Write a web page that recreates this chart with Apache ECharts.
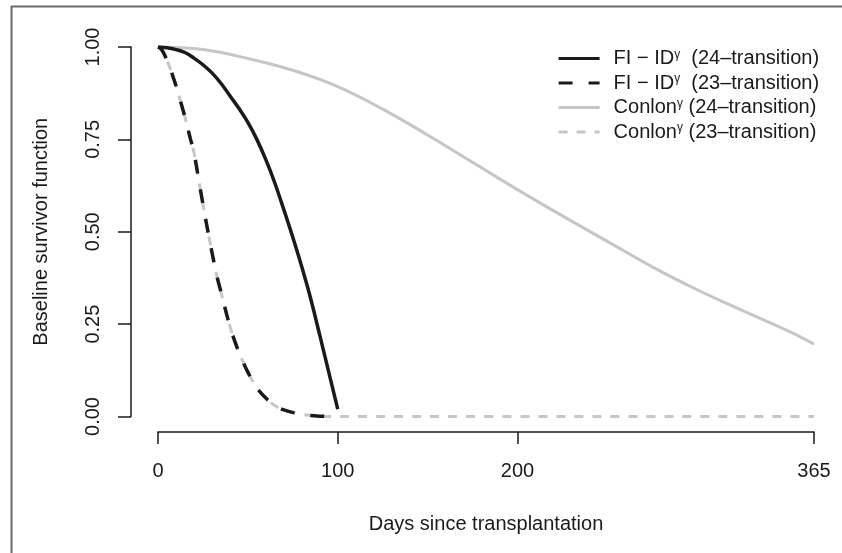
<!DOCTYPE html>
<html><head><meta charset="utf-8">
<script src="https://cdn.jsdelivr.net/npm/echarts@6/dist/echarts.min.js"></script>
<style>html,body{margin:0;padding:0;background:#fff}#c{width:842px;height:553px}</style>
</head><body><div id="c"></div>
<script>
// Days since transplantation / baseline survivor values
const fi24Days = [0,5,10,15,20,25,30,35,40,45,50,55,60,65,70,75,80,85,90,95,100];
const fi24Surv = [1,0.998,0.993,0.985,0.97,0.952,0.93,0.902,0.868,0.834,0.796,0.75,0.695,0.632,0.56,0.485,0.405,0.318,0.22,0.12,0.02];

const fi23Days = [0,2,4,6,8,10,12,15,18,20,23,25,27,30,33,35,38,40,43,46,50,55,60,65,70,80,90,100];
const fi23Surv = [1,0.993,0.975,0.952,0.925,0.895,0.862,0.81,0.752,0.715,0.63,0.575,0.521,0.445,0.375,0.338,0.28,0.245,0.2,0.163,0.12,0.078,0.05,0.03,0.018,0.006,0.001,0];

const con24Days = [0,25,50,75,100,125,150,175,200,225,250,275,300,325,350,365];
const con24Surv = [1,0.993,0.969,0.937,0.893,0.832,0.762,0.688,0.614,0.543,0.474,0.405,0.343,0.287,0.233,0.196];

const con23Days = [0,2,4,6,8,10,12,15,18,20,23,25,27,30,33,35,38,40,43,46,50,55,60,65,70,80,90,100,365];
const con23Surv = [1,0.993,0.975,0.952,0.925,0.895,0.862,0.81,0.752,0.715,0.63,0.575,0.521,0.445,0.375,0.338,0.28,0.245,0.2,0.163,0.12,0.078,0.05,0.03,0.018,0.006,0.001,0,0];

const xTicks = [0,100,200,365];
const seriesNames = ['FI24','FI23','CON24','CON23'];
const legendLabels = {
  FI24: '{a|FI \u2212 ID}{s|\u03b3}{a|  (24\u2013transition)}',
  FI23: '{a|FI \u2212 ID}{s|\u03b3}{a|  (23\u2013transition)}',
  CON24: '{a|Conlon}{s|\u03b3}{a| (24\u2013transition)}',
  CON23: '{a|Conlon}{s|\u03b3}{a| (23\u2013transition)}'
};

const pairs = (xs, ys) => xs.map((x, i) => [x, ys[i]]);
const FONT = '"Liberation Sans", Arial, Helvetica, sans-serif';
const INK = '#1a1a1a';
const GREY = '#c6c6c6';

const chart = echarts.init(document.getElementById('c'), null, {renderer: 'canvas'});
chart.setOption({
  animation: false,
  backgroundColor: '#fff',
  textStyle: {fontFamily: FONT},
  grid: {left: 158, right: 28, top: 47, bottom: 136.5, containLabel: false},
  xAxis: {
    type: 'value', min: 0, max: 365, offset: 15.5,
    name: 'Days since transplantation', nameLocation: 'middle', nameGap: 82,
    nameTextStyle: {fontSize: 20, color: INK, fontFamily: FONT},
    axisLine: {show: true, onZero: false, lineStyle: {color: INK, width: 1.5}},
    axisTick: {show: true, length: 12, lineStyle: {color: INK, width: 1.5}, customValues: xTicks},
    axisLabel: {fontSize: 20, color: INK, margin: 29, fontFamily: FONT, customValues: xTicks, showMinLabel: true, showMaxLabel: true},
    splitLine: {show: false}
  },
  yAxis: {
    type: 'value', min: 0, max: 1, interval: 0.25, offset: 27,
    name: 'Baseline survivor function', nameLocation: 'middle', nameGap: 80,
    nameTextStyle: {fontSize: 20, color: INK, fontFamily: FONT},
    axisLine: {show: true, onZero: false, lineStyle: {color: INK, width: 1.5}},
    axisTick: {show: true, length: 13, lineStyle: {color: INK, width: 1.5}},
    axisLabel: {fontSize: 20, color: INK, rotate: 90, margin: 28, fontFamily: FONT,
      formatter: v => v.toFixed(2)},
    splitLine: {show: false}
  },
  legend: {
    orient: 'vertical', left: 552, top: 43.5,
    itemWidth: 41, itemHeight: 20, itemGap: 4.5,
    data: seriesNames,
    formatter: n => legendLabels[n],
    itemStyle: {opacity: 0},
    lineStyle: {width: 3.2},
    textStyle: {
      color: INK, fontFamily: FONT, fontSize: 20, padding: [0, 0, 0, 9],
      rich: {
        a: {fontSize: 20, lineHeight: 20, color: INK, fontFamily: FONT},
        s: {fontSize: 12, lineHeight: 12, verticalAlign: 'top', color: INK, fontFamily: FONT}
      }
    }
  },
  graphic: [
    {type: 'line', shape: {x1: 11, y1: 6.5, x2: 842, y2: 6.5}, style: {stroke: '#6a6a6a', lineWidth: 2}, silent: true},
    {type: 'line', shape: {x1: 11.5, y1: 6, x2: 11.5, y2: 553}, style: {stroke: '#6a6a6a', lineWidth: 2}, silent: true}
  ],
  series: [
    {name: 'CON24', type: 'line', data: pairs(con24Days, con24Surv), symbol: 'none', smooth: 0.4, z: 2,
      lineStyle: {color: GREY, width: 3}, itemStyle: {color: GREY}},
    {name: 'CON23', type: 'line', data: pairs(con23Days, con23Surv), symbol: 'none', smooth: 0.4, z: 2,
      lineStyle: {color: GREY, width: 3, type: [9, 9]}, itemStyle: {color: GREY}},
    {name: 'FI24', type: 'line', data: pairs(fi24Days, fi24Surv), symbol: 'none', smooth: 0.4, z: 3,
      lineStyle: {color: INK, width: 3.5}, itemStyle: {color: INK}},
    {name: 'FI23', type: 'line', data: pairs(fi23Days, fi23Surv), symbol: 'none', smooth: 0.4, z: 3,
      lineStyle: {color: INK, width: 3.5, type: [14, 16]}, itemStyle: {color: INK}}
  ]
});
</script>
</body></html>
